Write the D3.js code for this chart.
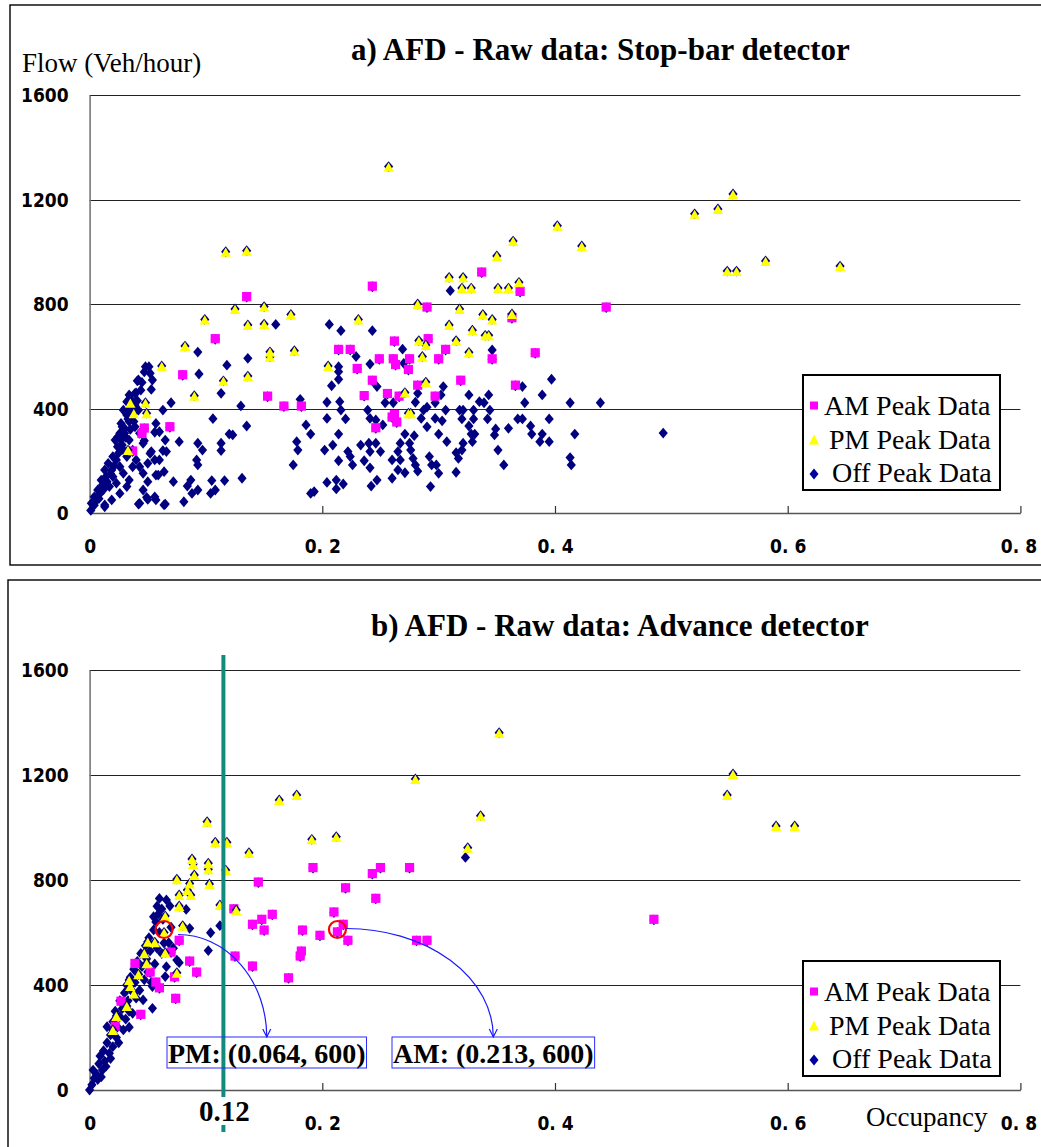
<!DOCTYPE html>
<html>
<head>
<meta charset="utf-8">
<script src="https://cdn.jsdelivr.net/npm/d3@7"></script>
<style>
  html, body { margin: 0; padding: 0; background: #fff; }
  svg { display: block; }
</style>
</head>
<body>
<svg id="chart" width="1041" height="1147"></svg>
<script>
// ---------------- DATA ----------------
const xTicks = [0, 0.2, 0.4, 0.6, 0.8];
const xTickLabels = ["0", "0. 2", "0. 4", "0. 6", "0. 8"];
const yTicks = [0, 400, 800, 1200, 1600];
const yTickLabels = ["0", "400", "800", "1200", "1600"];
const legendLabels = ["AM Peak Data", "PM Peak Data", "Off Peak Data"];
const titles = ["a) AFD - Raw data: Stop-bar detector", "b) AFD - Raw data: Advance detector"];
const yAxisTitle = "Flow (Veh/hour)";
const xAxisTitle = "Occupancy";

// Panel a) stop-bar detector  [occupancy, flow]
const topAM = [
  [0.135,826],[0.108,665],[0.080,527],[0.153,445],[0.167,407],[0.182,407],[0.069,328],[0.047,323],[0.045,302],[0.037,235],
  [0.337,920],[0.243,866],[0.370,846],[0.290,786],[0.444,786],[0.363,745],[0.262,656],[0.291,665],[0.214,624],[0.224,624],
  [0.306,624],[0.383,611],[0.249,588],[0.261,588],[0.275,588],[0.300,588],[0.346,588],[0.263,566],[0.274,547],[0.230,551],
  [0.243,506],[0.319,506],[0.282,487],[0.366,487],[0.256,455],[0.266,445],[0.297,445],[0.236,447],[0.260,365],[0.262,375],
  [0.264,346],[0.246,324]
];
const topPM = [
  [0.257,1326],[0.117,1000],[0.135,1004],[0.125,781],[0.150,790],[0.173,760],[0.099,741],[0.136,720],[0.150,723],[0.082,639],
  [0.155,617],[0.155,598],[0.176,621],[0.062,563],[0.115,506],[0.136,524],[0.090,449],[0.035,422],[0.048,422],[0.038,382],
  [0.049,382],[0.033,241],
  [0.364,1041],[0.350,984],[0.423,1022],[0.309,902],[0.321,902],[0.320,861],[0.328,861],[0.351,861],[0.360,861],[0.369,883],
  [0.282,800],[0.318,781],[0.338,760],[0.346,741],[0.363,762],[0.231,741],[0.309,720],[0.329,700],[0.340,680],[0.343,680],
  [0.283,660],[0.289,643],[0.315,660],[0.286,599],[0.326,615],[0.205,563],[0.289,501],[0.271,461],[0.274,382],[0.276,382],
  [0.402,1100],[0.520,1145],[0.540,1164],[0.553,1221],[0.548,926],[0.556,926],[0.581,965],[0.645,945]
];
const topOff = [
  [0.160,722],[0.136,592],[0.118,566],[0.093,616],[0.094,532],[0.113,458],[0.130,410],[0.106,361],[0.135,333],[0.070,422],
  [0.063,394],[0.120,302],[0.123,299],[0.077,273],[0.093,267],[0.097,241],[0.113,267],[0.113,239],[0.063,239],[0.092,203],
  [0.093,184],[0.064,158],[0.072,120],[0.087,126],[0.084,103],[0.105,124],[0.104,75],[0.108,88],[0.116,124],[0.131,133],
  [0.093,88],[0.088,75],[0.081,43],[0.064,31],[0.050,52],[0.056,62],[0.042,34],[0.013,31],[0.051,560],[0.052,535],
  [0.054,509],[0.053,473],[0.041,506],[0.039,458],[0.056,309],[0.047,277],[0.053,235],[0.056,203],[0.050,190],[0.057,145],
  [0.042,509],[0.040,460],[0.034,452],[0.032,426],[0.029,394],[0.032,375],[0.027,343],[0.030,324],[0.026,305],[0.022,279],
  [0.024,254],[0.020,216],[0.016,190],[0.013,165],[0.010,126],[0.007,88],[0.004,62],[0.0015,37],[0.001,10],[0.034,279],
  [0.037,241],[0.040,203],[0.043,177],[0.046,152],[0.032,216],[0.026,177],[0.020,139],[0.017,101],[0.029,152],[0.023,114],
  [0.037,177],[0.034,126],[0.052,228],[0.032,101],[0.026,75],[0.019,50],[0.013,24],[0.043,305],[0.039,330],[0.046,267],
  [0.042,394],[0.037,369],[0.034,350],[0.036,433],[0.039,413],[0.023,203],[0.019,165],[0.014,139],[0.011,107],[0.009,75],
  [0.006,50],[0.029,241],[0.027,279],[0.030,305],[0.033,394],[0.057,343],[0.060,311],[0.065,279],[0.066,235],[0.060,203],
  [0.059,145],[0.050,120],[0.046,88],[0.049,60],[0.043,37],[0.057,50],[0.065,34],[0.004,30],[0.008,55],[0.012,90],
  [0.015,120],[0.018,150],[0.021,180],[0.025,230],[0.028,260],[0.031,290],[0.035,320],[0.038,350],[0.041,430],[0.044,470],
  [0.047,540],[0.045,500],[0.048,560],[0.036,400],[0.033,360],[0.028,330],[0.024,290],
  [0.310,851],[0.206,722],[0.216,698],[0.243,698],[0.229,599],[0.241,570],[0.269,627],[0.270,573],[0.346,624],[0.214,560],
  [0.214,541],[0.214,512],[0.208,487],[0.247,484],[0.304,484],[0.372,484],[0.397,512],[0.181,435],[0.204,424],[0.215,426],
  [0.216,394],[0.254,422],[0.261,422],[0.280,424],[0.282,458],[0.297,422],[0.302,452],[0.326,452],[0.335,426],[0.339,422],
  [0.343,452],[0.374,422],[0.389,452],[0.413,422],[0.439,422],[0.239,394],[0.241,362],[0.246,356],[0.204,362],[0.220,360],
  [0.287,394],[0.290,405],[0.285,362],[0.290,330],[0.306,394],[0.297,362],[0.303,353],[0.318,394],[0.321,394],[0.320,360],
  [0.330,394],[0.330,360],[0.326,333],[0.344,394],[0.342,360],[0.368,360],[0.372,360],[0.395,360],[0.379,333],[0.360,324],
  [0.349,322],[0.348,299],[0.186,337],[0.190,302],[0.214,302],[0.252,337],[0.271,302],[0.279,296],[0.300,302],[0.328,302],
  [0.331,302],[0.380,302],[0.389,302],[0.417,302],[0.178,273],[0.179,241],[0.209,260],[0.202,241],[0.233,260],[0.240,267],
  [0.246,267],[0.241,235],[0.250,235],[0.267,267],[0.265,235],[0.275,267],[0.276,241],[0.307,273],[0.321,267],[0.320,241],
  [0.315,231],[0.317,209],[0.329,273],[0.351,241],[0.387,273],[0.395,273],[0.222,235],[0.224,216],[0.226,184],[0.214,200],
  [0.236,200],[0.241,173],[0.260,203],[0.267,203],[0.265,165],[0.278,209],[0.280,184],[0.282,160],[0.292,216],[0.294,184],
  [0.298,184],[0.300,152],[0.356,184],[0.413,212],[0.414,184],[0.175,184],[0.260,133],[0.271,154],[0.247,126],[0.242,103],
  [0.204,117],[0.212,126],[0.212,92],[0.218,111],[0.190,75],[0.193,82],[0.293,101],[0.315,156],[0.493,306]
];

// Panel b) advance detector  [occupancy, flow]
const botAM = [
  [0.192,845],[0.243,822],[0.250,845],[0.275,845],[0.145,790],[0.220,768],[0.246,728],[0.485,648],[0.210,676],[0.157,667],
  [0.148,648],[0.140,629],[0.150,607],[0.218,629],[0.213,600],[0.183,607],[0.198,587],[0.222,568],[0.281,568],[0.290,568],
  [0.182,527],[0.181,508],[0.140,470],[0.125,508],[0.171,425],[0.086,489],[0.092,447],[0.073,429],[0.074,347],[0.077,568],
  [0.124,688],[0.039,480],[0.052,447],[0.070,523],[0.057,409],[0.060,387],[0.027,336],[0.044,286],[0.022,241]
];
const botPM = [
  [0.352,1361],[0.280,1185],[0.163,1105],[0.178,1124],[0.191,955],[0.212,965],[0.137,904],[0.336,1045],[0.325,923],[0.548,1124],
  [0.553,1204],[0.590,1006],[0.606,1006],[0.101,1022],[0.108,944],[0.118,944],[0.088,880],[0.089,861],[0.102,864],[0.102,841],
  [0.090,819],[0.117,838],[0.075,803],[0.103,785],[0.086,787],[0.084,762],[0.087,743],[0.077,743],[0.077,701],[0.112,705],
  [0.126,686],[0.065,663],[0.080,626],[0.064,600],[0.050,565],[0.056,563],[0.065,523],[0.047,521],[0.049,483],[0.075,447],
  [0.042,441],[0.034,419],[0.035,396],[0.038,368],[0.032,320],[0.023,282],[0.020,229]
];
const botOff = [
  [0.323,886],[0.060,730],[0.069,701],[0.083,688],[0.086,616],[0.104,599],[0.102,531],[0.112,626],[0.068,561],[0.077,485],
  [0.065,432],[0.054,311],[0.034,239],[0.066,724],[0.058,700],[0.062,690],
  [0.000,0],[0.002,20],[0.004,45],[0.003,76],[0.006,60],[0.008,100],[0.009,130],[0.011,76],[0.012,150],[0.013,110],
  [0.015,180],[0.015,241],[0.017,140],[0.018,210],[0.020,165],[0.020,260],[0.022,300],[0.023,200],[0.024,240],[0.026,280],
  [0.026,340],[0.028,310],[0.029,229],[0.030,370],[0.031,270],[0.032,400],[0.033,340],[0.034,300],[0.035,430],[0.036,380],
  [0.037,292],[0.038,460],[0.039,410],[0.040,350],[0.041,490],[0.042,440],[0.043,380],[0.044,520],[0.045,470],[0.046,343],
  [0.047,420],[0.048,550],[0.049,500],[0.050,450],[0.051,580],[0.052,530],[0.053,410],[0.054,394],[0.055,610],[0.056,480],
  [0.057,640],[0.058,540],[0.059,670],[0.060,600],[0.062,520],[0.063,650],[0.064,560],[0.066,470],[0.055,660],[0.070,620],
  [0.072,540],[0.075,495],[0.007,40],[0.010,50],[0.014,90],[0.018,120],[0.025,180]
];

// Annotations (panel b)
const annotations = [
  { label: "PM: (0.064, 600)", occ: 0.064, flow: 600 },
  { label: "AM: (0.213, 600)", occ: 0.213, flow: 600 }
];
const thresholdLine = { occ: 0.115, label: "0.12" };

// ---------------- LAYOUT ----------------
const svg = d3.select("#chart");
const COLORS = { am: "#FF00FF", pm: "#FFFF00", off: "#000080" };
const serif = "'Liberation Serif', 'Times New Roman', serif";
const tickFont = "'DejaVu Sans Condensed', 'DejaVu Sans', sans-serif";

const x = d3.scaleLinear().domain([0, 0.8]).range([89.6, 1020.4]);

const panels = [
  { title: titles[0], titleX: 351, titleY: 60, top: 95, bottom: 513,
    frame: { x: 10, y: 5, w: 1040, h: 560 },
    am: topAM, pm: topPM, off: topOff, legendTop: 375, yTitle: true },
  { title: titles[1], titleX: 371, titleY: 636, top: 670, bottom: 1090,
    frame: { x: 8, y: 580, w: 1040, h: 580 },
    am: botAM, pm: botPM, off: botOff, legendTop: 961, xTitle: true, annotate: true }
];

const diamondPath = "M0,-5.4L4.6,0L0,5.4L-4.6,0Z";
const trianglePath = "M0,-4.2L5.2,5L-5.2,5Z";

panels.forEach(p => {
  const g = svg.append("g");
  const y = d3.scaleLinear().domain([0, 1600]).range([p.bottom, p.top]);

  g.append("rect").attr("x", p.frame.x).attr("y", p.frame.y)
    .attr("width", p.frame.w).attr("height", p.frame.h)
    .attr("fill", "none").attr("stroke", "#000").attr("stroke-width", 1.4);

  g.append("text").attr("x", p.titleX).attr("y", p.titleY)
    .attr("font-family", serif).attr("font-weight", "bold").attr("font-size", 31)
    .text(p.title);

  if (p.yTitle) {
    g.append("text").attr("x", 22).attr("y", 72)
      .attr("font-family", serif).attr("font-size", 27).text(yAxisTitle);
  }

  // gridlines
  g.append("g").selectAll("line").data(yTicks.filter(d => d > 0)).join("line")
    .attr("x1", x(0)).attr("x2", x(0.8))
    .attr("y1", d => Math.round(y(d)) + 0.5).attr("y2", d => Math.round(y(d)) + 0.5)
    .attr("stroke", "#222").attr("stroke-width", 1.2);

  // x axis
  const xa = g.append("g").attr("transform", `translate(0,${p.bottom})`)
    .call(d3.axisBottom(x).tickValues(xTicks).tickSize(-7).tickSizeOuter(0).tickPadding(27)
      .tickFormat((d, i) => xTickLabels[i]));
  xa.select(".domain").attr("stroke", "#555").attr("stroke-width", 1.5);
  xa.selectAll(".tick line").attr("stroke", "#333").attr("stroke-width", 1.2);
  xa.selectAll("text").attr("font-family", tickFont).attr("font-stretch", "condensed")
    .attr("font-size", 19).attr("font-weight", "bold").attr("fill", "#000").style("white-space", "pre");
  xa.selectAll(".tick").filter(d => d === 0.8).select("text").attr("dx", -2);

  // y axis
  const ya = g.append("g").attr("transform", `translate(${x(0)},0)`)
    .call(d3.axisLeft(y).tickValues(yTicks).tickSize(0).tickSizeOuter(0).tickPadding(21)
      .tickFormat((d, i) => yTickLabels[i]));
  ya.select(".domain").attr("stroke", "#777").attr("stroke-width", 1.6);
  ya.selectAll("text").attr("font-family", tickFont).attr("font-stretch", "condensed")
    .attr("font-size", 19).attr("font-weight", "bold").attr("fill", "#000").attr("dy", "0.36em");

  // points
  const pts = g.append("g");
  pts.selectAll("path.off").data(p.off).join("path").attr("class", "off")
    .attr("d", diamondPath).attr("fill", COLORS.off)
    .attr("transform", d => `translate(${x(d[0])},${y(d[1])})`);
  // AM squares (navy diamond underneath)
  pts.selectAll("path.amu").data(p.am).join("path").attr("class", "amu")
    .attr("d", diamondPath).attr("fill", COLORS.off)
    .attr("transform", d => `translate(${x(d[0])},${y(d[1])})`);
  pts.selectAll("rect.am").data(p.am).join("rect").attr("class", "am")
    .attr("x", d => x(d[0]) - 4.6).attr("y", d => y(d[1]) - 5.2)
    .attr("width", 9.2).attr("height", 9.2).attr("fill", COLORS.am);
  // PM triangles
  pts.selectAll("path.pmu").data(p.pm).join("path").attr("class", "pmu")
    .attr("d", diamondPath).attr("fill", COLORS.off)
    .attr("transform", d => `translate(${x(d[0])},${y(d[1])})`);
  pts.selectAll("path.pm").data(p.pm).join("path").attr("class", "pm")
    .attr("d", trianglePath).attr("fill", COLORS.pm)
    .attr("transform", d => `translate(${x(d[0])},${y(d[1])})`);

  if (p.annotate) {
    // threshold line
    const tx = x(thresholdLine.occ);
    g.append("line").attr("x1", tx).attr("x2", tx).attr("y1", 655).attr("y2", 1132)
      .attr("stroke", "#138a80").attr("stroke-width", 4);
    g.append("rect").attr("x", tx - 29).attr("y", 1097).attr("width", 60).attr("height", 28).attr("fill", "#fff");
    g.append("text").attr("x", tx + 1).attr("y", 1121).attr("text-anchor", "middle")
      .attr("font-family", serif).attr("font-weight", "bold").attr("font-size", 29)
      .text(thresholdLine.label);

    // x title
    g.append("text").attr("x", 866).attr("y", 1126)
      .attr("font-family", serif).attr("font-size", 27).text(xAxisTitle);

    // annotation circles, arrows & boxes
    const boxLefts = [167, 392];
    const boxTop = 1037, boxH = 31;
    annotations.forEach((a, i) => {
      const cx = x(a.occ), cy = y(a.flow) - 3;
      g.append("circle").attr("cx", cx).attr("cy", cy).attr("r", 8.5)
        .attr("fill", "none").attr("stroke", "#ff0000").attr("stroke-width", 2.2);
      const t = g.append("text").attr("x", boxLefts[i] + 1).attr("y", boxTop + 26)
        .attr("font-family", serif).attr("font-weight", "bold").attr("font-size", 28)
        .text(a.label);
      const bw = t.node().getComputedTextLength() + 2;
      g.append("rect").attr("x", boxLefts[i]).attr("y", boxTop).attr("width", bw).attr("height", boxH)
        .attr("fill", "none").attr("stroke", "#2a2aff").attr("stroke-width", 1);
      const sx = cx + (i === 0 ? 14 : 9), sy = cy + (i === 0 ? 5 : -1);
      const ex = boxLefts[i] + bw / 2, ey = boxTop;
      g.append("path")
        .attr("d", `M${sx},${sy} A${ex - sx},${ey - sy} 0 0 1 ${ex},${ey}`)
        .attr("fill", "none").attr("stroke", "#1a1aff").attr("stroke-width", 1.2);
      g.append("path")
        .attr("d", `M${ex - 4},${ey - 8} L${ex},${ey} L${ex + 4},${ey - 8}`)
        .attr("fill", "none").attr("stroke", "#1a1aff").attr("stroke-width", 1.2);
    });
  }

  // legend
  const lx = 803, lt = p.legendTop;
  const lg = g.append("g");
  lg.append("rect").attr("x", lx).attr("y", lt).attr("width", 197).attr("height", 115)
    .attr("fill", "#fff").attr("stroke", "#000").attr("stroke-width", 2);
  const textX = [824, 829, 832];
  legendLabels.forEach((lab, i) => {
    const cy = lt + 31 + i * 33.5;
    if (i === 0) {
      lg.append("rect").attr("x", lx + 7).attr("y", cy - 4.5).attr("width", 8).attr("height", 8).attr("fill", COLORS.am);
    } else if (i === 1) {
      lg.append("path").attr("d", "M0,-5L5,5L-5,5Z").attr("fill", COLORS.pm)
        .attr("transform", `translate(${lx + 11},${cy})`);
    } else {
      lg.append("path").attr("d", "M0,-5.5L4.5,0L0,5.5L-4.5,0Z").attr("fill", "#0000a0")
        .attr("transform", `translate(${lx + 11},${cy + 1})`);
    }
    lg.append("text").attr("x", textX[i]).attr("y", cy + 9)
      .attr("font-family", serif).attr("font-size", 28).text(lab);
  });
});
</script>
</body>
</html>
